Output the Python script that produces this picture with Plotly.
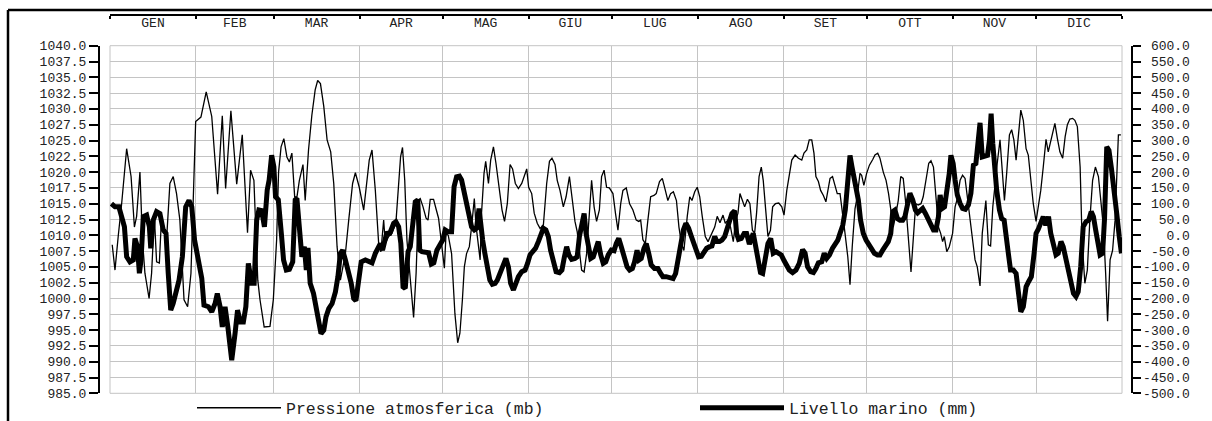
import plotly.graph_objects as go

# ---------------- data ----------------
MONTHS = ["GEN", "FEB", "MAR", "APR", "MAG", "GIU", "LUG", "AGO", "SET", "OTT", "NOV", "DIC"]
MONTH_DAYS = [31, 28, 31, 30, 31, 30, 31, 31, 30, 31, 30, 31]

# day of year (0 = 1 gennaio) and atmospheric pressure (mb)
PRESSURE_DAY = [
    0.3, 1.3, 2.5, 3.7, 5.5, 7.1, 8.3, 9.1, 10.3, 11.2,
    12.1, 13.6, 14.5, 15.5, 16.3, 17.3, 18.1, 19.9, 21.1, 22.3,
    23.5, 24.7, 26.2, 27.5, 28.7, 29.6, 30.4, 32.3, 34.2, 36.2,
    37.1, 38.3, 40.0, 41.2, 43.1, 45.2, 47.2, 49.1, 50.2, 51.4,
    52.8, 53.6, 55.1, 57.2, 58.4, 59.6,
    60.3, 61.2, 62.2, 63.3, 64.2, 65.1, 66.1, 66.9, 67.8, 69.1,
    69.9, 71.1, 72.3, 73.5, 74.4, 75.4, 76.6, 77.8, 79.1, 80.2,
    81.4, 82.6, 83.5, 84.4, 85.6, 87.0, 88.0, 89.4, 91.0, 92.2,
    93.0, 94.0, 95.2, 96.4, 97.2, 98.2, 98.8, 100.0, 101.2, 102.6,
    103.6, 104.3, 105.0, 105.8, 106.6, 107.8, 109.0, 109.9, 110.8, 111.4,
    112.4, 113.5, 114.2, 115.0, 116.2, 117.2, 118.0, 119.2, 120.1,
    120.7, 121.5, 122.7, 123.9, 124.9, 125.7, 126.6, 127.3, 128.1, 129.1,
    129.9, 130.9, 131.5, 132.3, 133.0, 133.5, 134.4, 135.0, 136.0, 136.8,
    137.8, 138.7, 139.7, 140.9, 141.8, 142.8, 143.8, 144.7, 145.7, 146.8,
    148.0, 148.8, 149.8, 150.5, 151.6, 152.5, 153.6, 154.6, 155.8, 157.0,
    158.0, 158.9, 160.0, 160.8, 161.8, 163.0, 164.0, 165.2, 166.4, 167.2,
    168.0, 168.8, 169.6, 170.5, 171.4, 172.4, 173.2, 174.1, 175.0, 176.0,
    176.8, 177.7, 178.6,
    179.6, 180.9, 181.8, 182.7, 183.7, 184.5, 185.7, 186.9, 188.1, 189.3,
    190.2, 190.9, 191.7, 192.6, 193.5, 194.5, 195.7, 196.5, 197.7, 198.7,
    199.8, 200.7, 201.7, 202.7, 203.8, 204.7, 205.6, 206.5, 207.7, 208.6,
    209.4, 210.4, 211.3, 212.2, 213.1, 214.2, 215.2, 216.4, 217.6, 218.5,
    219.5, 220.6, 221.4, 222.4, 223.3, 224.3, 225.2, 226.0, 226.7, 227.6,
    228.4, 229.4, 230.3, 231.2, 232.0, 232.7, 233.6, 234.4, 235.1, 235.9,
    236.8, 237.7, 238.5, 239.5, 240.7,
    241.8, 242.6, 243.6, 244.5, 245.4, 246.6, 247.8, 249.0, 249.8, 250.8,
    251.7, 252.6, 253.4, 254.1, 255.0, 255.8, 256.8, 257.7, 258.6, 259.2,
    260.1, 261.0, 261.8, 262.8, 263.8, 264.6, 265.6, 266.4, 267.2, 268.2,
    269.0, 270.0, 270.6, 271.4, 272.4, 273.4, 274.6, 275.4, 276.4, 277.2,
    278.4, 279.4, 280.3, 281.2, 282.0, 283.0, 283.8, 284.7, 285.6, 286.4,
    287.4, 288.4, 289.2, 290.1, 291.0, 292.0, 292.8, 293.8, 294.8, 295.6,
    296.5, 297.3, 298.3, 299.1, 299.8, 300.4, 301.3, 302.2,
    303.4, 304.3, 305.1, 306.1, 307.0, 307.9, 308.7, 309.7, 310.6, 311.5,
    312.3, 313.3, 314.1, 314.7, 315.4, 316.3, 317.1, 317.9, 318.7, 319.5,
    320.5, 321.3, 322.1, 322.9, 323.9, 324.7, 325.5, 326.3, 327.1, 328.0,
    328.9, 329.9, 330.7, 331.6, 332.5, 333.5, 334.3, 335.2, 336.1, 337.1,
    337.9, 338.8, 339.5, 340.3, 341.2, 342.1, 343.1, 344.0, 344.8, 345.7,
    346.7, 347.5, 348.4, 349.4, 350.1, 351.1, 352.0, 352.9, 353.9, 354.9,
    356.0, 356.8, 357.8, 358.6, 359.3, 360.2, 361.1, 362.0, 362.6, 363.2,
    364.1,
]
PRESSURE_MB = [
    1008.5, 1004.5, 1010, 1015, 1023.7, 1019.3, 1011.3, 1013, 1020, 1009.3,
    1004, 1000, 1004, 1013, 1005.8, 1005.6, 1013, 1009.3, 1018.2, 1019.3,
    1016.6, 1012.4, 999.8, 998.7, 1004, 1017.1, 1028, 1028.7, 1032.7, 1028.8,
    1023.5, 1016.5, 1028.9, 1017.4, 1029.7, 1018.1, 1025.9, 1010.4, 1020.3, 1018.7,
    1002.9, 999.8, 995.5, 995.6, 999.8, 1009.3,
    1020, 1024, 1025.3, 1022.4, 1021.6, 1023, 1016.1, 1016, 1018.7, 1021.2,
    1015.5, 1023.5, 1029, 1033, 1034.5, 1034, 1030.4, 1025.1, 1023.2, 1018.2,
    1008.2, 1002.9, 1005, 1007.1, 1012.4, 1018.2, 1019.9, 1017.6, 1014, 1018.7,
    1021.9, 1023.5, 1017.1, 1008.7, 1007.4, 1012.4, 1008.7, 1009.8, 1010.3, 1011.9,
    1018.7, 1022.4, 1023.9, 1018.7, 1009.2, 1002.9, 997, 1004, 1015.6, 1015.8,
    1014.5, 1012.7, 1012.4, 1015.7, 1015.7, 1014, 1012.7, 1008.2, 1004.8,
    1010.3, 1010, 1007.1, 997.6, 993, 994.5, 999.8, 1005, 1007.1, 1008.2,
    1011.3, 1015.8, 1011.6, 1008.2, 1006.1, 1013.5, 1019.8, 1021.7, 1018.2, 1021.9,
    1024, 1021.4, 1018.2, 1014, 1012.2, 1015, 1021.2, 1020.5, 1018.2, 1017.4,
    1018.2, 1019.3, 1020.5, 1017.6, 1016.6, 1013.5, 1011.9, 1011.1, 1011.6, 1018.2,
    1021.7, 1022.2, 1021.2, 1018.7, 1017.1, 1014.5, 1016.1, 1019.3, 1015.5, 1012.2,
    1010.6, 1007.1, 1004.5, 1004.2, 1007.1, 1013.5, 1018.7, 1014.5, 1012.2, 1014,
    1019.3, 1020.3, 1017.6,
    1017.5, 1016.6, 1013.5, 1010.8, 1015, 1017.1, 1017.5, 1015, 1014, 1012.4,
    1012.2, 1012.4, 1009.3, 1008.7, 1012.4, 1016.1, 1016.3, 1016.6, 1018.5, 1019,
    1017.1, 1015.5, 1016.6, 1016.9, 1015.5, 1011.3, 1008.7, 1007.6, 1013, 1016.1,
    1015.5, 1016.9, 1017.6, 1016.1, 1013, 1009.8, 1009, 1010.3, 1011.3, 1013,
    1012, 1013.2, 1011.9, 1012.4, 1011.3, 1009, 1012.4, 1013.5, 1016.6, 1015.5,
    1014.5, 1015.7, 1015, 1010.8, 1010.3, 1013.5, 1019.3, 1020.8, 1018.7, 1014.5,
    1009.8, 1010.8, 1014.5, 1015, 1015.1,
    1014.5, 1013.2, 1017.1, 1019.8, 1021.9, 1022.7, 1022.2, 1021.9, 1023, 1023.5,
    1025.1, 1025.1, 1023, 1019.3, 1018.5, 1017.1, 1016.3, 1015.3, 1017.6, 1019,
    1019.3, 1017.6, 1016.6, 1016.6, 1013.5, 1010.3, 1006.6, 1002.2, 1008.2, 1014.2,
    1016.1, 1019.8, 1019.5, 1017.9, 1019.8, 1021.1, 1022, 1022.7, 1023, 1022.2,
    1020, 1018.7, 1016.6, 1014, 1011.3, 1013.5, 1015.5, 1019.3, 1019, 1015.5,
    1009.3, 1004.2, 1009.3, 1015, 1014.8, 1015, 1016.1, 1018.7, 1021.4, 1021.8,
    1020.8, 1016.6, 1011.3, 1010.3, 1009, 1009.8, 1007.4, 1008.2,
    1010.3, 1014.5, 1015.8, 1018.7, 1019.5, 1019, 1016.1, 1012.4, 1008.7, 1006.1,
    1005, 1002, 1010.3, 1012.9, 1015.5, 1008.5, 1008.3, 1014.5, 1018.2, 1021.4,
    1025.1, 1020.8, 1015.5, 1019.8, 1025.9, 1026.7, 1025.1, 1021.9, 1026.1, 1029.8,
    1028.2, 1023.7, 1022.7, 1018.7, 1015, 1012.2, 1014.2, 1017.1, 1020.8, 1025.2,
    1023.2, 1025.1, 1026.4, 1027.7, 1025.3, 1023.2, 1022.2, 1025.6, 1027.5, 1028.4,
    1028.5, 1028.2, 1027.2, 1020.8, 1009.3, 1002.4, 1004.5, 1012.4, 1018.7, 1020.8,
    1019.3, 1016.1, 1011.3, 1004, 996.4, 1006.1, 1007.6, 1012.4, 1018.2, 1025.9,
    1025.9,
]

# day of year and sea level (mm)
LEVEL_DAY = [
    0.0, 1.3, 2.7, 3.7, 4.7, 5.5, 6.7, 7.9, 8.5, 9.4,
    10.1, 10.7, 11.5, 12.7, 13.7, 14.2, 15.1, 16.3, 17.5, 18.7,
    19.7, 20.5, 21.4, 22.3, 23.3, 24.4, 25.6, 26.8, 28.0, 29.0,
    30.0, 31.4, 32.6, 33.4, 35.0, 36.2, 37.4, 38.2, 39.2, 40.0,
    41.0, 42.0, 42.7, 43.4, 44.6, 45.5, 46.5, 47.6, 48.5, 49.4,
    50.6, 51.5, 52.4, 53.2, 54.2, 55.2, 56.2, 56.9, 57.8, 58.6,
    59.2, 60.2,
    61.3, 62.1, 63.1, 64.2, 65.4, 66.3, 66.9, 67.8, 68.7, 69.6,
    70.3, 70.9, 71.7, 72.9, 73.9, 74.7, 75.6, 76.6, 77.4, 78.4,
    79.6, 80.8, 81.7, 82.6, 83.4, 84.4, 85.6, 86.5, 87.4, 88.2,
    89.2, 90.1, 91.6, 93.0, 94.0, 95.2, 96.1, 97.0, 97.8, 98.8,
    99.4, 100.2, 101.0, 101.8, 102.6, 103.6, 104.4, 105.2, 106.0, 107.0,
    107.8, 108.7, 109.6, 110.5, 111.2, 112.0, 113.2, 114.4, 115.4, 116.3,
    117.4, 118.6, 119.5, 120.4,
    121.5, 122.7, 123.6, 124.5, 125.5, 126.3, 127.2, 128.1, 129.1, 129.9,
    130.9, 131.7, 132.6, 133.2, 133.9, 134.7, 135.6, 136.5, 137.4, 138.4,
    139.2, 140.2, 141.4, 142.3, 143.2, 144.0, 145.0, 145.9, 146.8, 148.0,
    149.2, 150.1, 151.0, 151.9, 153.0, 154.0, 155.0, 155.8, 156.7, 157.6,
    158.4, 159.4, 160.4, 161.6, 162.5, 163.4, 164.2, 165.0, 166.0, 167.2,
    168.0, 168.8, 169.6, 170.5, 171.2, 172.0, 172.9, 173.8, 174.8, 175.6,
    176.5, 177.4, 178.3, 179.2,
    180.3, 181.3, 182.1, 183.0, 183.9, 184.9, 186.0, 186.9, 187.9, 188.7,
    189.6, 190.3, 191.1, 192.1, 192.9, 193.8, 194.7, 195.9, 197.1, 198.1,
    198.9, 200.1, 201.3, 202.6, 203.5, 204.4, 205.3, 206.3, 207.2, 208.2,
    209.2, 210.1, 211.0, 211.8, 212.8, 213.7, 214.7, 215.8, 216.6, 217.6,
    218.4, 219.3, 220.2, 221.2, 222.0, 222.9, 223.8, 224.8, 225.5, 226.2,
    227.2, 228.2, 229.1, 230.1, 230.8, 231.5, 232.4, 233.2, 234.1, 234.9,
    235.9, 236.8, 237.8, 238.7, 239.7, 240.7,
    241.6, 242.6, 243.4, 244.5, 245.7, 246.9, 248.1, 249.3, 250.2, 251.1,
    252.2, 253.2, 254.1, 255.0, 256.2, 257.1, 258.0, 259.0, 260.1, 261.0,
    262.0, 262.8, 263.8, 264.7, 265.6, 266.4, 267.1, 267.8, 268.6, 269.4,
    270.2, 271.2, 272.2, 273.2, 274.2, 275.2, 276.3, 277.2, 278.2, 279.1,
    280.2, 281.1, 281.8, 282.6, 283.5, 284.4, 285.4, 286.2, 287.1, 288.0,
    289.0, 290.0, 290.8, 291.6, 292.6, 293.6, 294.6, 295.5, 296.5, 297.4,
    298.3, 298.9, 299.7, 300.5, 301.3, 302.2, 302.8,
    303.6, 304.3, 305.1, 306.1, 307.0, 308.0, 309.1, 310.0, 310.9, 311.8,
    312.7, 313.3, 314.1, 315.1, 316.0, 316.7, 317.3, 317.9, 318.4, 319.3,
    320.3, 321.1, 322.0, 322.7, 323.5, 324.3, 325.3, 326.3, 327.1, 328.0,
    328.9, 329.9, 330.8, 331.8, 332.8, 333.5, 334.3, 335.2, 336.1, 337.0,
    338.0, 338.8, 339.7, 340.7, 341.5, 342.5, 343.3, 344.3, 345.1, 346.0,
    347.0, 347.9, 348.7, 349.6, 350.5, 351.5, 352.5, 353.4, 354.2, 355.0,
    355.8, 356.6, 357.5, 358.2, 359.0, 359.8, 360.7, 361.6, 362.6, 363.5,
    364.3,
]
LEVEL_MM = [
    100, 90, 90, 59, 27, -68, -84, -78, -10, -36,
    -120, -78, 59, 64, 27, -41, 48, 75, 69, 17,
    6, -120, -237, -215, -173, -142, -68, 90, 110, 90,
    -15, -78, -136, -221, -226, -242, -216, -184, -226, -290,
    -226, -290, -363, -395, -311, -237, -274, -274, -226, -89,
    -152, -152, 48, 80, 78, 27, 143, 175, 253, 217,
    122, 112,
    6, -78, -110, -108, -84, 112, 117, 27, -68, -36,
    -110, -40, -152, -184, -226, -279, -311, -300, -258, -232,
    -216, -179, -131, -57, -47, -78, -115, -152, -200, -207,
    -142, -84, -78, -84, -87, -57, -36, -26, -47, -15,
    11, 1, 22, 38, 43, 27, -26, -163, -168, -52,
    -36, 59, 106, 112, -47, -52, -52, -55, -91, -87,
    -47, -31, -15, 17,
    11, 11, 154, 185, 187, 175, 133, 90, 48, 27,
    17, 22, 85, 27, -15, -57, -100, -142, -155, -152,
    -142, -121, -100, -73, -100, -152, -173, -152, -131, -115,
    -110, -89, -62, -52, -41, -20, 6, 22, 17, -4,
    -47, -84, -115, -118, -110, -68, -36, -62, -76, -73,
    -68, -4, 38, 69, 6, -41, -73, -68, -36, -20,
    -62, -89, -84, -62,
    -47, -49, -26, -10, -36, -68, -100, -110, -105, -84,
    -47, -78, -73, -41, -26, -57, -94, -105, -105, -121,
    -131, -131, -133, -137, -121, -68, -15, 17, 38, 22,
    -4, -31, -57, -68, -66, -52, -41, -36, -34, -4,
    -20, -20, -15, -4, 17, 43, 69, 78, 6, -13,
    -10, 6, 6, -28, -4, 6, -36, -84, -118, -121,
    -57, -26, -10, -57, -52, -57,
    -62, -80, -95, -110, -118, -110, -89, -45, -57, -100,
    -115, -118, -105, -87, -84, -57, -73, -62, -41, -31,
    -15, 6, 32, 80, 175, 253, 217, 185, 154, 112,
    48, 6, -15, -31, -47, -57, -62, -62, -47, -31,
    -20, 6, 75, 80, 53, 48, 48, 59, 101, 133,
    112, 80, 71, 80, 85, 69, 53, 32, 17, 17,
    59, 128, 85, 90, 133, 196, 253,
    227, 175, 128, 101, 85, 82, 96, 133, 222, 227,
    301, 356, 248, 253, 253, 301, 385, 290, 216, 143,
    80, 53, 48, -15, -57, -110, -110, -121, -184, -242,
    -226, -163, -147, -131, -57, 6, 19, 38, 59, 32,
    59, 6, -31, -62, -57, -20, -36, -78, -110, -152,
    -184, -194, -179, -100, 27, 43, 48, 75, 59, 17,
    -15, -62, -57, 53, 280, 269, 211, 154, 69, -4,
    -57,
]

assert len(PRESSURE_DAY) == len(PRESSURE_MB)
assert len(LEVEL_DAY) == len(LEVEL_MM)

LEFT_TICKS = [985 + 2.5 * i for i in range(23)]
RIGHT_TICKS = [-500 + 50 * i for i in range(23)]

# ---------------- layout helpers ----------------
W, H = 1212, 421
FONT = "Liberation Mono"

bounds = [-0.5]
for n in MONTH_DAYS:
    bounds.append(bounds[-1] + n)
centers = [(bounds[i] + bounds[i + 1]) / 2 for i in range(12)]
xr = [bounds[0], bounds[-1]]

px = lambda v: v / W
py = lambda v: 1 - v / H

fig = go.Figure()
fig.add_trace(go.Scatter(
    x=PRESSURE_DAY, y=PRESSURE_MB, mode="lines",
    name="Pressione atmosferica (mb)",
    line=dict(color="black", width=1.3),
    xaxis="x", yaxis="y",
))
fig.add_trace(go.Scatter(
    x=LEVEL_DAY, y=LEVEL_MM, mode="lines",
    name="Livello marino (mm)",
    line=dict(color="black", width=5),
    xaxis="x", yaxis="y2",
))
# empty carriers so that the top (month) axes are rendered
for ax in ("x2", "x3"):
    fig.add_trace(go.Scatter(x=[None], y=[None], xaxis=ax, yaxis="y",
                             showlegend=False, hoverinfo="skip", mode="lines"))

grid = "#c4c4c4"
fig.update_layout(
    width=W, height=H,
    margin=dict(l=0, r=0, t=0, b=0, autoexpand=False),
    paper_bgcolor="white", plot_bgcolor="white",
    font=dict(family=FONT, size=13, color="#222"),
    showlegend=True,
    xaxis=dict(
        domain=[px(110), px(1122)], range=xr,
        tickmode="array", tickvals=bounds, showticklabels=False, ticks="",
        showgrid=True, gridcolor=grid, gridwidth=1,
        zeroline=False, showline=False,
    ),
    xaxis2=dict(
        overlaying="x", anchor="free", position=py(14.5), side="bottom",
        range=xr, tickmode="array", tickvals=bounds, showticklabels=False,
        ticks="outside", ticklen=3, tickwidth=2, tickcolor="black",
        showline=True, linewidth=2, linecolor="black",
        showgrid=False, zeroline=False,
    ),
    xaxis3=dict(
        overlaying="x", anchor="free", position=py(12.5), side="bottom",
        range=xr, tickmode="array", tickvals=centers, ticktext=MONTHS,
        ticks="", showline=False, showgrid=False, zeroline=False,
        tickfont=dict(family=FONT, size=13, color="#222"),
    ),
    yaxis=dict(
        domain=[py(393.3), py(45.7)], range=[985, 1040],
        anchor="free", position=px(99), side="left",
        tickmode="array", tickvals=LEFT_TICKS,
        ticktext=[f"{v:.1f}" for v in LEFT_TICKS],
        ticks="outside", ticklen=9, tickwidth=2, tickcolor="black",
        showline=True, linewidth=2, linecolor="black",
        showgrid=True, gridcolor=grid, gridwidth=1, zeroline=False,
        tickfont=dict(family=FONT, size=13, color="#222"),
    ),
    yaxis2=dict(
        overlaying="y", anchor="free", position=px(1131.5), side="right",
        range=[-500, 600],
        tickmode="array", tickvals=RIGHT_TICKS,
        ticktext=[f"{v:.1f}".rjust(6, "\u00a0") for v in RIGHT_TICKS],
        ticks="outside", ticklen=8, tickwidth=2, tickcolor="black",
        showline=True, linewidth=2, linecolor="black",
        showgrid=False, zeroline=False,
        tickfont=dict(family=FONT, size=13, color="#222"),
    ),
    legend=dict(
        orientation="h", x=px(192), y=py(408), xanchor="left", yanchor="middle",
        font=dict(family=FONT, size=16.5, color="#222"),
        bgcolor="rgba(0,0,0,0)", itemwidth=84,
        entrywidth=404, entrywidthmode="pixels",
    ),
    shapes=[
        dict(type="rect", xref="x domain", yref="y domain", x0=0, x1=1, y0=0, y1=1,
             line=dict(color=grid, width=1), layer="below"),
        dict(type="line", xref="paper", yref="paper", x0=px(8), x1=px(8),
             y0=-0.05, y1=py(10), line=dict(color="black", width=2.5)),
        dict(type="line", xref="paper", yref="paper", x0=px(8), x1=1.05,
             y0=py(10), y1=py(10), line=dict(color="black", width=2.5)),
    ],
)

fig.write_html("out.html", config={"displayModeBar": False},
               post_script="document.body.style.margin='0';")
